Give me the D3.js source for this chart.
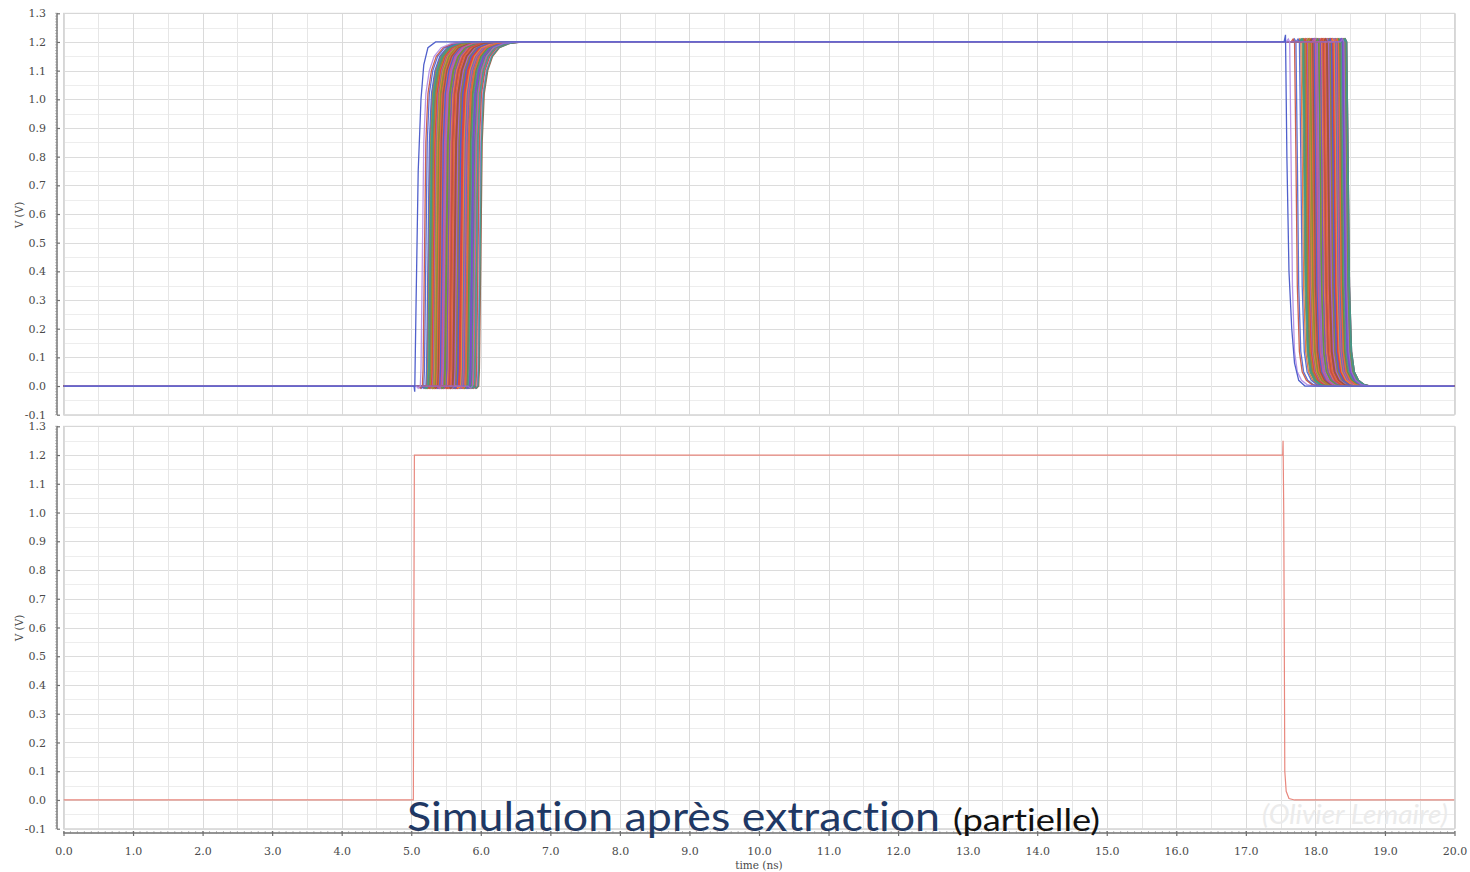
<!DOCTYPE html>
<html>
<head>
<meta charset="utf-8">
<script src="https://cdn.jsdelivr.net/npm/d3@7"></script>
<style>
  html, body { margin: 0; padding: 0; background: #ffffff; }
  svg { display: block; }
  text { font-variant-ligatures: none; font-feature-settings: "liga" 0; }
</style>
</head>
<body>
<svg id="chart" width="1470" height="872"></svg>
<script>
// ---- axis ticks ----
const timeTicks = [0,1,2,3,4,5,6,7,8,9,10,11,12,13,14,15,16,17,18,19,20];
const voltTicks = [-0.1,0.0,0.1,0.2,0.3,0.4,0.5,0.6,0.7,0.8,0.9,1.0,1.1,1.2,1.3];

// ---- Monte Carlo runs (top panel) ----
// switching instants of each run, ns
const runRise = [
  5.42,5.61,5.27,5.83,5.55,5.34,5.71,5.49,5.22,5.90,
  5.66,5.38,5.58,5.79,5.31,5.47,5.63,5.25,5.86,5.52,
  5.41,5.74,5.36,5.95,5.59,5.29,5.68,5.45,5.81,5.53,
  5.18,5.64,5.39,5.77,5.50,5.33,5.88,5.57,5.44,5.70,
  5.26,5.62,5.84,5.48,5.35,5.73,5.56,5.92,5.30,5.67,
  5.43,5.80,5.54,5.23,5.65,5.37,5.76,5.51,5.97,5.40,
  5.69,5.28,5.60,5.85,5.46,5.32,5.72,5.58,5.89,5.24,
  5.63,5.44,5.78,5.52,5.35,5.67,5.93,5.47,5.21,5.61,
  5.39,5.82,5.55,5.30,5.70,5.49,5.87,5.42,5.65,5.27,
  5.75,5.53,5.36,5.91,5.59,5.45,5.68,5.33,5.80,5.50,
  5.16,5.64,5.41,5.74,5.56,5.96,5.38,5.62,5.29,5.71,
  5.48,5.84,5.54,5.34,5.66,5.43,5.78,5.25,5.60,5.88,
  5.13
];
const runFall = [
  18.00,18.18,17.85,18.38,18.12,17.92,18.27,18.06,17.79,18.42,
  18.22,17.96,18.15,18.33,17.88,18.04,18.20,17.83,18.40,18.09,
  17.98,18.30,17.94,18.45,18.16,17.87,18.24,18.02,18.36,18.10,
  17.72,18.21,17.97,18.32,18.07,17.90,18.41,18.14,18.01,18.26,
  17.84,18.19,18.39,18.05,17.93,18.29,18.13,18.44,17.89,18.23,
  18.00,18.35,18.11,17.81,18.22,17.95,18.31,18.08,18.45,17.99,
  18.25,17.86,18.17,18.40,18.03,17.90,18.28,18.15,18.43,17.82,
  18.20,18.01,18.34,18.09,17.93,18.24,18.44,18.04,17.77,18.18,
  17.97,18.37,18.12,17.88,18.26,18.06,18.42,17.99,18.22,17.85,
  18.31,18.10,17.94,18.44,18.16,18.03,18.25,17.91,18.35,18.07,
  17.70,18.21,17.98,18.30,18.13,18.45,17.96,18.19,17.87,18.27,
  18.05,18.39,18.11,17.92,18.23,18.00,18.33,17.83,18.17,18.41,
  17.63
];
const runColors = [
  "#e0443a","#ee8a3c","#5a9c3c","#7c4fc4","#c9503e","#8f8a3a",
  "#4a63d0","#d4588f","#e86a3a","#3f9a8a","#a0523a","#9a6ad8"
];
// edge shapes of a run: [time offset from the switching instant (ns), V]
const riseEdge = [[-0.06,0],[-0.03,-0.008],[0,0],[0.01,0.06],[0.03,0.45],[0.05,0.85],[0.08,1.02],
                  [0.13,1.10],[0.2,1.15],[0.3,1.18],[0.45,1.195],[0.65,1.2]];
const fallEdge = [[-0.05,1.2],[-0.02,1.21],[0,1.2],[0.02,0.8],[0.04,0.35],[0.07,0.12],
                  [0.11,0.05],[0.17,0.02],[0.25,0.005],[0.35,0]];
// nominal run, drawn on top
const nominalWave = [[0,0],[5.04,0],[5.05,-0.02],[5.07,0.3],[5.1,0.75],[5.14,1.0],[5.18,1.12],
                     [5.24,1.18],[5.35,1.2],[17.55,1.2],[17.57,1.225],[17.59,0.8],[17.62,0.4],
                     [17.66,0.2],[17.7,0.08],[17.76,0.02],[17.85,0],[20,0]];

// ---- extracted netlist (bottom panel) ----
const extractedWave = [[0,0],[5.03,0],[5.045,1.2],[17.53,1.2],[17.535,1.25],[17.545,1.0],
                       [17.56,0.1],[17.58,0.03],[17.62,0.005],[17.7,0],[20,0]];

// ---------------------------------------------------------------
const svg = d3.select("#chart");
const serif = "'DejaVu Serif', 'Liberation Serif', serif";
const fmt1 = v => d3.format(".1f")(v).replace("\u2212", "-");

const x = d3.scaleLinear().domain([0, 20]).range([63.5, 1454.5]);
const yTop = d3.scaleLinear().domain([-0.1, 1.3]).range([414.7, 13.3]);
const yBot = d3.scaleLinear().domain([-0.1, 1.3]).range([828.7, 426.3]);

function drawPanel(id, y, labelY) {
  const g = svg.append("g");
  const [y0, y1] = y.range();
  g.append("rect").attr("x", x(0)).attr("y", y1).attr("width", x(20) - x(0)).attr("height", y0 - y1)
    .attr("fill", "#ffffff");
  // grid: minor then major
  const hMinor = d3.range(-0.1, 1.3001, 0.05);
  g.selectAll(null).data(hMinor).join("line")
    .attr("x1", x(0)).attr("x2", x(20))
    .attr("y1", d => Math.round(y(d)) + 0.5).attr("y2", d => Math.round(y(d)) + 0.5)
    .attr("stroke", d => Math.abs(d * 10 - Math.round(d * 10)) < 1e-6 ? "#dcdcdc" : "#ededed")
    .attr("stroke-width", 1);
  const vLines = d3.range(0, 20.001, 0.5);
  g.selectAll(null).data(vLines).join("line")
    .attr("y1", y(-0.1)).attr("y2", y(1.3))
    .attr("x1", d => Math.round(x(d)) + 0.5).attr("x2", d => Math.round(x(d)) + 0.5)
    .attr("stroke", d => Number.isInteger(d) ? "#dadada" : "#e6e6e6")
    .attr("stroke-width", 1);
  g.append("rect").attr("x", x(0)).attr("y", y1).attr("width", x(20) - x(0)).attr("height", y0 - y1)
    .attr("fill", "none").attr("stroke", "#d6d6d6");

  // left axis
  const ax = g.append("g").attr("transform", "translate(57,0)");
  ax.append("line").attr("x1", 0).attr("x2", 0).attr("y1", y(-0.1)).attr("y2", y(1.3))
    .attr("stroke", "#707070").attr("stroke-width", 1.4);
  const minor = d3.range(-10, 131).map(i => i / 100);
  ax.selectAll(null).data(minor).join("line")
    .attr("x1", -1.8).attr("x2", 0.8).attr("y1", d => y(d)).attr("y2", d => y(d))
    .attr("stroke", "#8a8a8a").attr("stroke-width", 0.7);
  const axis = d3.axisLeft(y).tickValues(voltTicks).tickFormat(fmt1)
    .tickSize(-3).tickPadding(11);
  const axG = ax.append("g").call(axis);
  axG.select(".domain").remove();
  axG.selectAll(".tick line").attr("stroke", "#707070").attr("stroke-width", 1.2);
  axG.selectAll(".tick text").attr("font-family", serif).attr("font-size", 11)
    .attr("fill", "#4a4a4a");

  svg.append("text").attr("transform", `translate(23,${labelY}) rotate(-90)`)
    .attr("text-anchor", "middle").attr("font-family", serif).attr("font-size", 10.5)
    .attr("fill", "#4a4a4a").text("V (V)");

  const clip = svg.append("clipPath").attr("id", id);
  clip.append("rect").attr("x", x(0)).attr("y", y1).attr("width", x(20) - x(0)).attr("height", y0 - y1);
  return svg.append("g").attr("clip-path", `url(#${id})`);
}

const topPlot = drawPanel("clipTop", yTop, 215);
const botPlot = drawPanel("clipBot", yBot, 628);

// Monte Carlo traces
const lineTop = d3.line().x(d => x(d[0])).y(d => yTop(d[1]));
runRise.forEach((tr, i) => {
  const tf = runFall[i];
  const pts = [[0, 0]]
    .concat(riseEdge.map(p => [tr + p[0], p[1]]))
    .concat(fallEdge.map(p => [tf + p[0], p[1]]))
    .concat([[20, 0]]);
  const col = i === runRise.length - 1 ? "#b08ae6" : runColors[i % runColors.length];
  topPlot.append("path").attr("d", lineTop(pts)).attr("fill", "none")
    .attr("stroke", col).attr("stroke-width", 1.3).attr("stroke-opacity", 0.9);
});
topPlot.append("path").attr("d", lineTop(nominalWave)).attr("fill", "none")
  .attr("stroke", "#5060cc").attr("stroke-width", 1.3);

// extracted trace
const lineBot = d3.line().x(d => x(d[0])).y(d => yBot(d[1]));
botPlot.append("path").attr("d", lineBot(extractedWave)).attr("fill", "none")
  .attr("stroke", "#e8877d").attr("stroke-width", 1.2);

// bottom time axis
const bx = svg.append("g").attr("transform", "translate(0,833)");
bx.append("line").attr("x1", x(0)).attr("x2", x(20)).attr("y1", 0).attr("y2", 0)
  .attr("stroke", "#707070").attr("stroke-width", 1.3);
bx.selectAll(null).data(d3.range(0, 201).map(i => i / 10)).join("line")
  .attr("x1", d => x(d)).attr("x2", d => x(d)).attr("y1", -1.8).attr("y2", 0.6)
  .attr("stroke", "#8a8a8a").attr("stroke-width", 0.7);
const xAxis = d3.axisBottom(x).tickValues(timeTicks).tickFormat(fmt1)
  .tickSize(3).tickPadding(11);
const bxG = bx.append("g").call(xAxis);
bxG.select(".domain").remove();
bxG.selectAll(".tick line").attr("stroke", "#707070").attr("stroke-width", 1.2).attr("y1", -2);
bxG.selectAll(".tick text").attr("font-family", serif).attr("font-size", 11).attr("fill", "#4a4a4a");
svg.append("text").attr("x", x(10)).attr("y", 869).attr("text-anchor", "middle")
  .attr("font-family", serif).attr("font-size", 10.5).attr("fill", "#4a4a4a").text("time (ns)");

// author mark
svg.append("text").attr("x", 1262).attr("y", 824)
  .attr("font-family", "Lato, 'Open Sans', sans-serif").attr("font-style", "italic")
  .attr("font-size", 27).attr("fill", "#ebebeb")
  .attr("textLength", 186).attr("lengthAdjust", "spacingAndGlyphs").text("(Olivier Lemaire)");

// slide caption
svg.append("text").attr("x", 407).attr("y", 831)
  .attr("font-family", "Lato, 'Open Sans', sans-serif").attr("font-size", 41).attr("fill", "#1f3864")
  .attr("textLength", 533).attr("lengthAdjust", "spacingAndGlyphs").text("Simulation après extraction");
svg.append("text").attr("x", 953).attr("y", 831)
  .attr("font-family", "Lato, 'Open Sans', sans-serif").attr("font-size", 30).attr("fill", "#111111")
  .attr("textLength", 147).attr("lengthAdjust", "spacingAndGlyphs").text("(partielle)");
</script>
</body>
</html>
